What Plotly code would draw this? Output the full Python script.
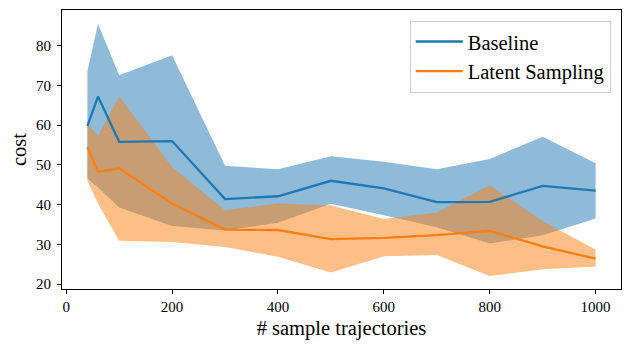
import plotly.graph_objects as go

# ---- data ----
samples = [40, 60, 100, 200, 300, 400, 500, 600, 700, 800, 900, 1000]
baseline_mean = [59.8, 67.2, 55.8, 56.0, 41.4, 42.1, 46.0, 44.1, 40.6, 40.7, 44.7, 43.5]
baseline_upper = [73.6, 85.5, 72.6, 77.6, 49.8, 48.9, 52.2, 50.8, 48.9, 51.5, 57.1, 50.4]
baseline_lower = [46.6, 44.3, 39.3, 34.6, 33.5, 35.4, 40.2, 37.3, 34.3, 30.2, 32.3, 36.5]
latent_mean = [54.5, 48.3, 49.1, 40.2, 33.7, 33.6, 31.3, 31.6, 32.3, 33.4, 29.5, 26.4]
latent_upper = [60.5, 57.2, 67.3, 49.5, 38.6, 40.3, 39.8, 36.4, 38.0, 44.9, 35.8, 28.7]
latent_lower = [46.0, 40.3, 30.9, 30.6, 29.3, 26.9, 22.9, 27.0, 27.3, 22.0, 23.7, 24.4]
x_ticks = [0, 200, 400, 600, 800, 1000]
y_ticks = [20, 30, 40, 50, 60, 70, 80]

BLUE = "#1f77b4"
ORANGE = "#ff7f0e"
FONT = "Liberation Serif"

fig = go.Figure()

def band(x, lo, hi, color):
    fig.add_trace(go.Scatter(
        x=list(x) + list(x)[::-1],
        y=list(hi) + list(lo)[::-1],
        fill="toself", fillcolor=color, line=dict(width=0),
        mode="lines", showlegend=False, hoverinfo="skip"))

band(samples, baseline_lower, baseline_upper, "rgba(31,119,180,0.5)")
band(samples, latent_lower, latent_upper, "rgba(255,127,14,0.5)")

fig.add_trace(go.Scatter(x=samples, y=baseline_mean, mode="lines",
                         line=dict(color=BLUE, width=2.3), name="Baseline"))
fig.add_trace(go.Scatter(x=samples, y=latent_mean, mode="lines",
                         line=dict(color=ORANGE, width=2.3), name="Latent Sampling"))

axis_common = dict(showline=True, mirror=True, linecolor="black", linewidth=1,
                   ticks="outside", ticklen=4, tickwidth=1, tickcolor="black",
                   showgrid=False, zeroline=False,
                   tickfont=dict(family=FONT, size=15, color="black"))

fig.update_xaxes(range=[-8, 1048], tickvals=x_ticks,
                 title=dict(text="# sample trajectories",
                            font=dict(family=FONT, size=20.5, color="black"), standoff=6),
                 **axis_common)
fig.update_yaxes(range=[18.75, 89.0], tickvals=y_ticks, ticklabelstandoff=3,
                 title=dict(text="cost",
                            font=dict(family=FONT, size=20.5, color="black"), standoff=8),
                 **axis_common)

# page body has an 8px default margin, so the figure is offset by 8px
fig.update_layout(
    width=622, height=342,
    margin=dict(l=54, r=9, t=2, b=61),
    plot_bgcolor="white", paper_bgcolor="white",
    font=dict(family=FONT, color="black"),
    legend=dict(x=0.9816, y=0.9617, xanchor="right", yanchor="top",
                itemwidth=47,
                bgcolor="rgba(255,255,255,0.8)", bordercolor="#d0d0d0", borderwidth=1,
                font=dict(family=FONT, size=20.5, color="black")),
)

fig.write_html("out.html")
